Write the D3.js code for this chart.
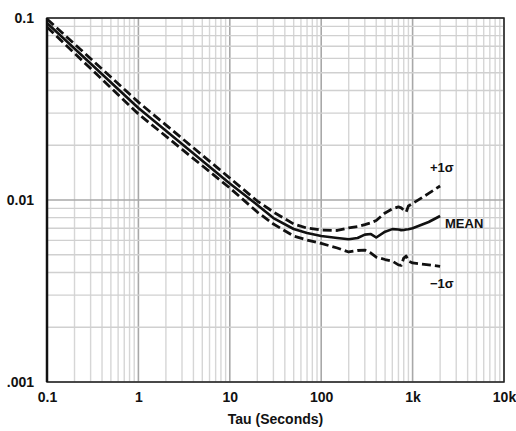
<!DOCTYPE html>
<html>
<head>
<meta charset="utf-8">
<script src="https://cdn.jsdelivr.net/npm/d3@7"></script>
<style>
  body { margin: 0; background: #fff; }
  text { font-family: "Liberation Sans", Arial, sans-serif; font-weight: bold; fill: #111; }
</style>
</head>
<body>
<svg id="vis" width="516" height="431"></svg>
<script>
// Allan deviation style plot
const tau = [0.1, 1, 10, 20, 30, 50, 70, 100, 150, 200, 250, 300, 350, 400, 500, 600, 700, 750, 800, 850, 900, 1000, 1500, 2000];
const meanVals = [0.0939, 0.0320, 0.01233, 0.0094, 0.00796, 0.00693, 0.00659, 0.00634, 0.00618, 0.00608, 0.00618, 0.00645, 0.0065, 0.00622, 0.00670, 0.00692, 0.00688, 0.00683, 0.00684, 0.00688, 0.00690, 0.00700, 0.00757, 0.00817];
const plusVals = [0.0987, 0.0345, 0.0132, 0.00987, 0.00859, 0.00738, 0.00701, 0.00684, 0.00680, 0.00702, 0.00715, 0.00733, 0.00750, 0.00772, 0.00849, 0.00893, 0.00916, 0.00905, 0.00881, 0.00859, 0.00927, 0.00957, 0.01087, 0.01194];
const minusVals = [0.0892, 0.0297, 0.01164, 0.00859, 0.00738, 0.00634, 0.00603, 0.00577, 0.00545, 0.00518, 0.00528, 0.00531, 0.00511, 0.00486, 0.00471, 0.00462, 0.00440, 0.00437, 0.00480, 0.00492, 0.00462, 0.00451, 0.00440, 0.00432];

const xTicks = [0.1, 1, 10, 100, 1000, 10000];
const xLabels = ["0.1", "1", "10", "100", "1k", "10k"];
const yTicks = [0.001, 0.01, 0.1];
const yLabels = [".001", "0.01", "0.1"];

const margin = { top: 18, right: 12, bottom: 49, left: 47 };

const svg = d3.select("#vis");
const width = 516, height = 431;

const x = d3.scaleLog().domain([0.1, 10000]).range([margin.left, width - margin.right]);
const y = d3.scaleLog().domain([0.001, 0.1]).range([height - margin.bottom, margin.top]);

const isMajor = function(v) {
  return Math.abs(Math.log10(v) - Math.round(Math.log10(v))) < 1e-9;
};

// grid
const grid = svg.append("g");
grid.selectAll("line.vx")
  .data(x.ticks())
  .enter().append("line")
  .attr("x1", d => x(d)).attr("x2", d => x(d))
  .attr("y1", y.range()[0]).attr("y2", y.range()[1])
  .attr("stroke", d => isMajor(d) ? "#a8a8a8" : "#d6d6d6")
  .attr("stroke-width", d => isMajor(d) ? 1.6 : 1.4);

grid.selectAll("line.hy")
  .data(y.ticks())
  .enter().append("line")
  .attr("y1", d => y(d)).attr("y2", d => y(d))
  .attr("x1", x.range()[0]).attr("x2", x.range()[1])
  .attr("stroke", d => isMajor(d) ? "#a8a8a8" : "#d0d0d0")
  .attr("stroke-width", d => isMajor(d) ? 1.6 : 1.4);

// frame
svg.append("rect")
  .attr("x", x.range()[0]).attr("y", y.range()[1])
  .attr("width", x.range()[1] - x.range()[0])
  .attr("height", y.range()[0] - y.range()[1])
  .attr("fill", "none").attr("stroke", "#222").attr("stroke-width", 1.5);
svg.append("line")
  .attr("x1", x.range()[0]).attr("x2", x.range()[0])
  .attr("y1", y.range()[1]).attr("y2", y.range()[0])
  .attr("stroke", "#111").attr("stroke-width", 2.5);

// axes
const xAxis = svg.append("g")
  .attr("transform", "translate(0," + (y.range()[0] + 7) + ")")
  .call(d3.axisBottom(x).tickValues(xTicks).tickSize(0)
    .tickFormat((d, i) => xLabels[i]));
xAxis.select(".domain").remove();
xAxis.selectAll("text").attr("font-size", 14).attr("fill", "#111");

const yAxis = svg.append("g")
  .attr("transform", "translate(" + (x.range()[0] - 10) + ",0)")
  .call(d3.axisLeft(y).tickValues(yTicks).tickSize(0)
    .tickFormat((d, i) => yLabels[i]));
yAxis.select(".domain").remove();
yAxis.selectAll("text").attr("font-size", 14).attr("fill", "#111");

svg.append("text")
  .attr("x", (x.range()[0] + x.range()[1]) / 2)
  .attr("y", 424)
  .attr("text-anchor", "middle")
  .attr("font-size", 14)
  .text("Tau (Seconds)");

// curves
const line = d3.line()
  .x(d => x(d[0]))
  .y(d => y(d[1]));

const series = [
  { vals: plusVals, dash: "9,4", w: 2.8 },
  { vals: minusVals, dash: "9,4", w: 2.8 },
  { vals: meanVals, dash: null, w: 2.6 }
];

svg.append("g").selectAll("path")
  .data(series)
  .enter().append("path")
  .attr("d", s => line(tau.map((t, i) => [t, s.vals[i]])))
  .attr("fill", "none")
  .attr("stroke", "#111")
  .attr("stroke-width", s => s.w)
  .attr("stroke-dasharray", s => s.dash)
  .attr("stroke-linejoin", "round");

// labels
svg.append("text").attr("x", 430).attr("y", 172).attr("font-size", 13).text("+1\u03c3");
svg.append("text").attr("x", 445).attr("y", 228).attr("font-size", 13).text("MEAN");
svg.append("text").attr("x", 430).attr("y", 288).attr("font-size", 13).text("\u22121\u03c3");
</script>
</body>
</html>
